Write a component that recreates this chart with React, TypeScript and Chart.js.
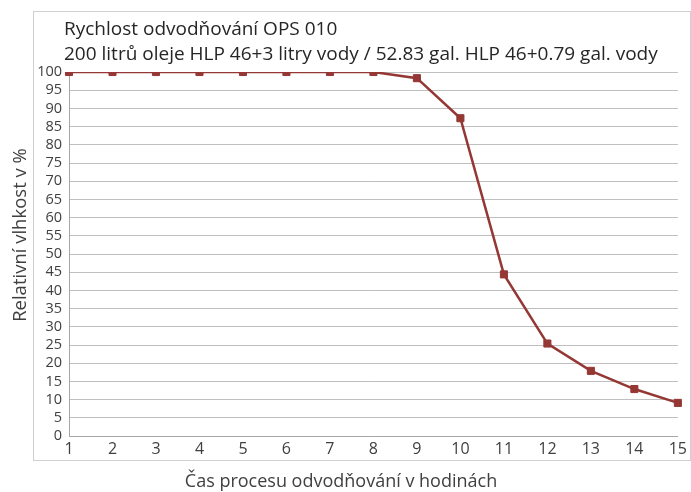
import React, { useEffect, useRef } from "react";
import { Chart, registerables } from "chart.js";

Chart.register(...registerables);

const hours = ["1", "2", "3", "4", "5", "6", "7", "8", "9", "10", "11", "12", "13", "14", "15"];
const humidity = [100, 100, 100, 100, 100, 100, 100, 100, 98.3, 87.3, 44.4, 25.4, 17.9, 12.9, 9.1];
const titleLines = [
  "Rychlost odvodňování OPS 010",
  "200 litrů oleje HLP 46+3 litry vody / 52.83 gal. HLP 46+0.79 gal. vody",
];
const yTitle = "Relativní vlhkost v %";
const xTitle = "Čas procesu odvodňování v hodinách";

const FONT = "'Open Sans', 'Noto Sans', sans-serif";
const LINE = "#953735";

const decorPlugin = {
  id: "decor",
  beforeDraw(chart: any) {
    const ctx = chart.ctx;
    ctx.save();
    ctx.strokeStyle = "#d0d0d0";
    ctx.lineWidth = 1;
    ctx.strokeRect(33.5, 11.5, 657, 449);
    ctx.restore();
  },
  afterDraw(chart: any) {
    const ctx = chart.ctx;
    ctx.save();
    ctx.fillStyle = "#262626";
    ctx.textBaseline = "alphabetic";
    ctx.textAlign = "left";
    ctx.font = `19px ${FONT}`;
    ctx.fillText(titleLines[0], 64, 35);
    ctx.fillText(titleLines[1], 64, 60);
    ctx.fillStyle = "#404040";
    ctx.font = `18px ${FONT}`;
    ctx.textAlign = "center";
    ctx.fillText(xTitle, 341, 487);
    ctx.font = `18.5px ${FONT}`;
    ctx.translate(26, 235);
    ctx.rotate(-Math.PI / 2);
    ctx.fillText(yTitle, 0, 0);
    ctx.restore();
  },
};

export default function App() {
  const ref = useRef<HTMLCanvasElement>(null);
  useEffect(() => {
    document.body.style.margin = "0";
    const chart = new Chart(ref.current!, {
      type: "line",
      data: {
        labels: hours,
        datasets: [
          {
            data: humidity,
            borderColor: LINE,
            backgroundColor: LINE,
            borderWidth: 2.5,
            pointStyle: "rect",
            pointRadius: 5,
            pointBorderWidth: 1,
            pointBackgroundColor: LINE,
            pointBorderColor: LINE,
            tension: 0,
          },
        ],
      },
      options: {
        animation: false,
        responsive: false,
        layout: { padding: { left: 0, right: 10, top: 72, bottom: 0 } },
        plugins: { legend: { display: false }, tooltip: { enabled: false }, title: { display: false } },
        scales: {
          x: {
            offset: false,
            grid: { display: false, drawTicks: false },
            border: { display: true, color: "#a6a6a6", width: 1 },
            ticks: { color: "#404040", font: { family: FONT, size: 16 }, padding: 4, maxRotation: 0, autoSkip: false },
            afterFit(scale: any) {
              scale.height = 56;
            },
          },
          y: {
            min: 0,
            max: 100,
            ticks: { stepSize: 5, autoSkip: false, color: "#404040", font: { family: FONT, size: 14.5 }, padding: 7 },
            grid: { color: "#bfbfbf", drawTicks: false, lineWidth: 1 },
            border: { display: true, color: "#a6a6a6", width: 1 },
            afterFit(scale: any) {
              scale.width = 69;
            },
          },
        },
      },
      plugins: [decorPlugin],
    });
    return () => chart.destroy();
  }, []);
  return (
    <div style={{ width: 691, height: 492 }}>
      <canvas ref={ref} width={691} height={492} style={{ display: "block" }} />
    </div>
  );
}
